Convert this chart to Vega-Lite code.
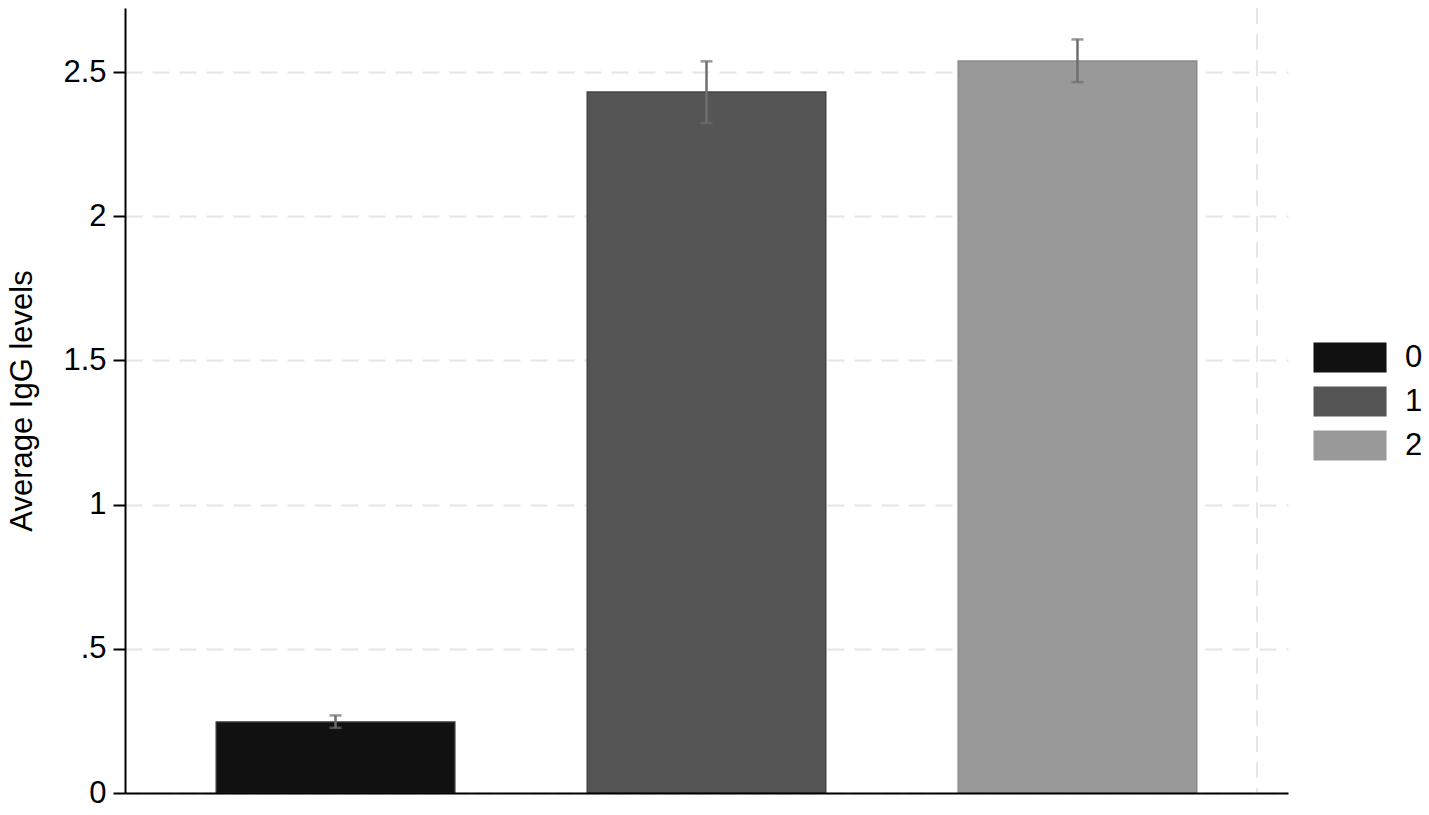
{
  "$schema": "https://vega.github.io/schema/vega-lite/v6.json",
  "autosize": "none",
  "padding": {"left": 125, "top": 8, "right": 141, "bottom": 22},
  "width": 1163,
  "height": 785,
  "background": "white",
  "config": {
    "view": {"stroke": null},
    "font": "Liberation Sans"
  },
  "data": {
    "values": [
      {"group": "0", "mean": 0.246, "lo": 0.226, "hi": 0.269},
      {"group": "1", "mean": 2.431, "lo": 2.323, "hi": 2.537},
      {"group": "2", "mean": 2.538, "lo": 2.465, "hi": 2.613}
    ]
  },
  "resolve": {"scale": {"x": "independent"}},
  "layer": [
    {
      "data": {"values": [{"k": 1}]},
      "mark": {"type": "rule", "color": "#e6e6e6", "strokeWidth": 2, "strokeDash": [16, 10]},
      "encoding": {
        "x": {"datum": 0.9733, "type": "quantitative", "scale": {"domain": [0, 1]}, "axis": null}
      }
    },
    {
      "layer": [
        {
          "mark": {"type": "bar", "strokeWidth": 1.5},
          "encoding": {
            "x": {
              "field": "group", "type": "nominal",
              "scale": {"paddingInner": 0.357, "paddingOuter": 0.246},
              "axis": {"labels": false, "ticks": false, "title": null, "domainColor": "black", "domainWidth": 2, "grid": false, "zindex": 2}
            },
            "y": {
              "field": "mean", "type": "quantitative",
              "scale": {"domain": [0, 2.722], "nice": false, "zero": true},
              "axis": {
                "values": [0, 0.5, 1, 1.5, 2, 2.5],
                "labelExpr": "datum.value == 0.5 ? '.5' : format(datum.value, '~g')",
                "title": "Average IgG levels",
                "titleFontSize": 31,
                "titleFontWeight": "normal",
                "titleColor": "black",
                "titlePadding": 24,
                "labelFontSize": 31,
                "labelColor": "black",
                "labelPadding": 7,
                "tickSize": 12,
                "tickWidth": 2,
                "tickColor": "black",
                "domainColor": "black",
                "domainWidth": 2,
                "grid": true,
                "gridColor": "#e6e6e6",
                "gridWidth": 2,
                "gridDash": [17, 10]
              }
            },
            "color": {
              "field": "group", "type": "nominal",
              "scale": {"domain": ["0", "1", "2"], "range": ["#111111", "#555555", "#999999"]},
              "legend": {
                "title": null,
                "orient": "none",
                "legendX": 1188,
                "legendY": 334,
                "padding": 0,
                "symbolType": "M-1,-1H3.87V1H-1Z",
                "symbolSize": 900,
                "symbolStrokeWidth": 0,
                "symbolOpacity": 1,
                "labelFontSize": 31,
                "labelColor": "black",
                "labelOffset": 61,
                "rowPadding": 12
              }
            },
            "stroke": {
              "field": "group", "type": "nominal",
              "scale": {"domain": ["0", "1", "2"], "range": ["#333333", "#444444", "#8a8a8a"]},
              "legend": null
            }
          }
        },
        {
          "mark": {"type": "rule", "color": "#6e6e6e", "strokeWidth": 2.5},
          "encoding": {
            "x": {"field": "group", "type": "nominal"},
            "y": {"field": "lo", "type": "quantitative"},
            "y2": {"field": "hi"}
          }
        },
        {
          "mark": {"type": "tick", "color": "#6e6e6e", "thickness": 2.5, "size": 12},
          "encoding": {
            "x": {"field": "group", "type": "nominal"},
            "y": {"field": "lo", "type": "quantitative"}
          }
        },
        {
          "mark": {"type": "tick", "color": "#6e6e6e", "thickness": 2.5, "size": 12},
          "encoding": {
            "x": {"field": "group", "type": "nominal"},
            "y": {"field": "hi", "type": "quantitative"}
          }
        }
      ]
    }
  ]
}
